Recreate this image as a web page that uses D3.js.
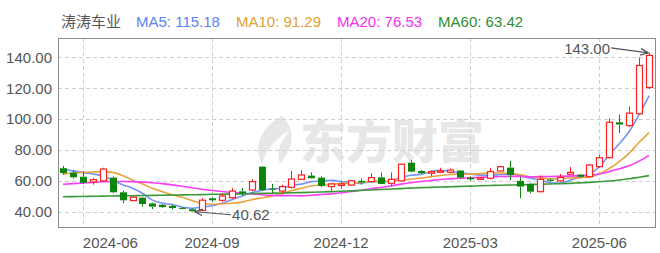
<!DOCTYPE html>
<html><head><meta charset="utf-8">
<script src="https://cdn.jsdelivr.net/npm/d3@7"></script>
<style>
body{margin:0;background:#fff}
svg{display:block}
text{font-family:"Liberation Sans",Arial,"Noto Sans CJK SC",sans-serif}
</style>
</head><body>
<svg id="c" width="660" height="253"></svg>
<script>
const stockName = "涛涛车业";
const dates = ["2024-05-20","2024-05-27","2024-06-03","2024-06-10","2024-06-17","2024-06-24","2024-07-01","2024-07-08","2024-07-15","2024-07-22",
"2024-07-29","2024-08-05","2024-08-12","2024-08-19","2024-08-26","2024-09-02","2024-09-09","2024-09-16","2024-09-23","2024-09-30",
"2024-10-07","2024-10-14","2024-10-21","2024-10-28","2024-11-04","2024-11-11","2024-11-18","2024-11-25","2024-12-02","2024-12-09",
"2024-12-16","2024-12-23","2024-12-30","2025-01-06","2025-01-13","2025-01-20","2025-01-27","2025-02-03","2025-02-10","2025-02-17",
"2025-02-24","2025-03-03","2025-03-10","2025-03-17","2025-03-24","2025-03-31","2025-04-07","2025-04-14","2025-04-21","2025-04-28",
"2025-05-05","2025-05-12","2025-05-19","2025-05-26","2025-06-02","2025-06-09","2025-06-16","2025-06-23","2025-06-30","2025-07-07"];
const openVals = [68.2,65.3,62.7,59.3,60.0,62.1,52.6,47.2,49.1,45.4, 44.5,43.7,42.5,41.6,40.8,48.7,47.4,49.1,53.2,54.1,
69.2,55.0,53.4,55.8,61.0,63.4,62.1,56.3,57.0,57.3, 60.0,59.5,62.3,58.4,60.0,71.8,66.4,65.0,65.6,65.6,
66.7,62.0,61.0,61.7,66.4,68.6,60.0,58.0,53.0,60.8, 60.0,64.3,64.0,62.7,69.2,75.0,98.0,95.8,103.5,120.5];
const closeVals = [65.0,62.3,58.8,60.8,67.7,52.6,47.4,49.4,45.0,43.3, 43.0,42.4,42.0,40.3,47.5,47.4,50.2,53.4,52.0,59.5,
54.1,54.3,56.3,61.2,63.8,61.7,56.7,58.0,58.0,60.1, 59.0,62.1,58.0,61.0,70.8,66.0,65.0,66.0,66.5,67.0,
62.1,61.0,62.0,66.0,69.2,63.8,56.3,53.0,61.0,60.0, 62.1,65.5,62.7,70.3,75.0,98.0,96.5,103.9,134.8,141.3];
const highVals = [69.7,67.0,66.0,62.0,68.5,63.0,53.5,50.0,49.5,46.0, 45.0,44.5,43.0,42.0,48.7,49.5,51.5,55.5,55.5,61.0,
69.5,58.0,57.5,66.4,67.0,65.5,63.0,58.5,59.5,60.5, 61.5,65.0,65.5,65.5,71.0,73.5,67.0,67.0,68.5,68.0,
67.0,63.0,62.5,68.5,69.5,72.9,62.5,58.5,63.5,61.5, 64.5,69.0,64.5,70.8,77.0,100.5,103.0,108.0,140.0,143.0];
const lowVals = [64.0,61.5,58.0,57.5,59.5,52.0,45.5,47.0,43.3,41.6, 42.5,41.5,41.5,40.62,40.7,46.5,46.5,48.5,50.5,53.5,
53.5,52.0,51.5,55.0,60.5,61.5,56.0,53.5,55.0,57.0, 57.5,59.0,57.8,56.5,59.5,65.5,64.5,63.0,65.0,65.0,
61.5,60.0,60.5,61.0,66.0,60.5,48.7,52.0,52.5,59.5, 59.5,64.0,62.0,62.0,68.5,74.5,91.0,95.0,103.0,119.5];
const ma5 = [67.5,66.5,65.5,64.5,63.2,60.4,57.5,55.2,52.0,47.5, 45.6,44.6,43.1,42.2,43.0,43.9,45.5,47.8,50.1,52.5,
53.8,54.7,55.2,57.1,57.9,59.5,59.9,60.3,59.6,58.9, 58.4,59.4,59.4,60.0,62.2,63.6,64.2,65.8,66.9,66.1,
65.3,64.5,63.7,63.6,64.1,64.4,63.5,61.7,60.7,58.8, 58.5,60.3,62.3,64.5,69.0,77.0,84.0,92.0,103.0,115.18];
const ma10 = [64.5,65.0,65.5,65.8,66.0,65.5,63.5,60.5,58.0,55.2, 53.0,51.0,49.4,47.3,45.3,44.8,45.1,45.5,46.2,47.8,
48.9,50.1,51.5,53.6,55.2,56.7,57.3,57.8,58.4,58.4, 58.9,59.7,59.9,59.8,60.5,61.0,61.8,62.6,63.5,64.1,
64.5,64.3,64.7,65.2,65.1,64.9,64.0,62.7,62.1,61.4, 61.4,61.9,62.0,62.6,64.5,68.0,72.5,78.0,85.0,91.29];
const ma20 = [57.8,58.2,58.6,59.0,59.4,59.6,59.6,59.5,59.2,58.8, 58.2,57.4,56.5,55.5,54.6,53.8,53.1,52.5,52.0,51.5,
51.0,50.6,50.4,50.5,50.3,50.7,51.2,51.6,52.3,53.1, 53.9,54.9,55.7,56.7,57.9,58.8,59.6,60.2,60.9,61.3,
61.7,62.0,62.3,62.5,62.8,62.9,62.9,62.6,62.8,62.8, 62.9,63.1,63.4,63.8,64.5,66.0,67.8,69.8,72.8,76.53];
const ma60 = [49.7,49.8,49.9,50.0,50.1,50.2,50.3,50.4,50.5,50.6, 50.7,50.8,50.9,51.0,51.1,51.3,51.4,51.5,51.6,51.8,
51.9,52.0,52.1,52.3,52.4,52.6,52.8,53.0,53.3,53.5, 53.8,54.1,54.4,54.7,55.0,55.3,55.6,55.8,56.0,56.2,
56.4,56.6,56.8,57.0,57.2,57.3,57.4,57.6,57.8,58.0, 58.2,58.4,58.7,59.0,59.4,59.9,60.6,61.4,62.4,63.42];
const maNames = ["MA5","MA10","MA20","MA60"];
const yTickValues = [40,60,80,100,120,140];
const xTickLabels = ["2024-06","2024-09","2024-12","2025-03","2025-06"];

const maSeries = [ma5, ma10, ma20, ma60];
const maLineColors = ["#7393f7","#e8a440","#fb3cf8","#3a9a3a"];
const maTextColors = ["#5b84f5","#e3a032","#f530f2","#2f8f2f"];
const upColor = "#ff1f1f", downColor = "#0b850b", textColor = "#555";

const W = 660, H = 253;
const L = 58, R = 655, T = 38, B = 227;
const svg = d3.select("#c");

const n = dates.length;
const x = d3.scaleBand().domain(d3.range(n)).range([L, R - 1]).paddingInner(0.4).paddingOuter(0.2);
const xc = i => x(i) + x.bandwidth() / 2;
const y = d3.scaleLinear().domain([30.1, 152.6]).range([B, T]);

// watermark
const wm = svg.append("g").attr("opacity", 0.09);
wm.append("text").attr("x", 300).attr("y", 158)
  .attr("font-size", 46).attr("font-weight", 900)
  .attr("font-family", "'Noto Sans CJK SC',sans-serif")
  .attr("fill", "#000").text("东方财富");
wm.append("path")
  .attr("d", "M282,116 C262,126 252,146 262,164 C266,150 276,138 290,130 C280,142 276,152 280,164 C292,150 298,132 282,116 Z")
  .attr("fill", "#000");

// grid
const tickIdx = xTickLabels.map(lbl => dates.findIndex(d => d.startsWith(lbl)));
const grid = svg.append("g").attr("stroke", "#cfcfcf").attr("stroke-dasharray", "4,3").attr("stroke-width", 1);
grid.selectAll("line.h").data(yTickValues).join("line")
  .attr("x1", L).attr("x2", R).attr("y1", d => Math.round(y(d)) + 0.5).attr("y2", d => Math.round(y(d)) + 0.5);
grid.selectAll("line.v").data(tickIdx).join("line")
  .attr("y1", T).attr("y2", B).attr("x1", d => Math.round(xc(d)) + 0.5).attr("x2", d => Math.round(xc(d)) + 0.5);

// axes
const yAxis = svg.append("g").attr("transform", `translate(${L - 6},0)`)
  .call(d3.axisLeft(y).tickValues(yTickValues).tickFormat(d3.format(".2f")).tickSize(0));
yAxis.select(".domain").remove();
yAxis.selectAll("text").attr("font-size", 15).attr("fill", textColor)
  .attr("font-family", "'Liberation Sans',Arial,sans-serif").attr("x", 0);

const xAxis = svg.append("g").attr("transform", `translate(0,${B})`)
  .call(d3.axisBottom(d3.scaleLinear().domain([0, 1]).range([0, 1]))
    .tickValues(tickIdx).tickFormat((d, i) => xTickLabels[i]).tickSize(0));
xAxis.select(".domain").remove();
xAxis.selectAll(".tick").attr("transform", d => `translate(${xc(d)},0)`);
xAxis.selectAll("text").attr("font-size", 15).attr("fill", textColor).attr("y", 10)
  .attr("font-family", "'Liberation Sans',Arial,sans-serif")
  .attr("text-anchor", (d, i) => i === 0 ? "start" : "middle");

// border
svg.append("rect").attr("x", L + 0.5).attr("y", T + 0.5).attr("width", R - L).attr("height", B - T)
  .attr("fill", "none").attr("stroke", "#8a8a8a").attr("stroke-width", 1);

// MA lines
maSeries.forEach((s, k) => {
  svg.append("path").datum(s)
    .attr("fill", "none").attr("stroke", maLineColors[k]).attr("stroke-width", 1.6)
    .attr("d", d3.line().x((d, i) => xc(i)).y(d => y(d)).curve(d3.curveMonotoneX));
});

// candles
const candles = d3.range(n).map(i => ({i, o: openVals[i], c: closeVals[i], h: highVals[i], l: lowVals[i]}));
const cg = svg.append("g");
const bw = Math.round(x.bandwidth());
candles.forEach(d => {
  const up = d.c >= d.o;
  const col = up ? upColor : downColor;
  const cx = Math.round(xc(d.i)) + 0.5;
  const top = y(Math.max(d.o, d.c)), bot = y(Math.min(d.o, d.c));
  cg.append("line").attr("x1", cx).attr("x2", cx).attr("y1", y(d.h)).attr("y2", top).attr("stroke", col);
  cg.append("line").attr("x1", cx).attr("x2", cx).attr("y1", bot).attr("y2", y(d.l)).attr("stroke", col);
  const hgt = Math.max(1, bot - top);
  if (up) {
    cg.append("rect").attr("x", cx - bw / 2).attr("y", top).attr("width", bw).attr("height", hgt)
      .attr("fill", "#fff").attr("stroke", col).attr("stroke-width", 1.2);
  } else {
    cg.append("rect").attr("x", cx - bw / 2 - 0.5).attr("y", top).attr("width", bw + 1).attr("height", hgt)
      .attr("fill", col);
  }
});

// annotations
svg.append("defs").append("marker").attr("id", "arr").attr("viewBox", "0 0 10 10")
  .attr("refX", 9).attr("refY", 5).attr("markerWidth", 7).attr("markerHeight", 7)
  .attr("orient", "auto-start-reverse")
  .append("path").attr("d", "M0,1 L9,5 L0,9").attr("fill", "none").attr("stroke", "#555").attr("stroke-width", 1.6);

const iMax = d3.maxIndex(highVals), iMin = d3.minIndex(lowVals);
const tipMax = [xc(iMax), y(highVals[iMax])];
const tMax = svg.append("text").attr("x", tipMax[0] - 39).attr("y", tipMax[1] - 4).attr("dy", "0.35em")
  .attr("text-anchor", "end").attr("font-size", 15).attr("fill", textColor).text(d3.format(".2f")(highVals[iMax]));
svg.append("path").attr("d", d3.line()([[tipMax[0] - 38, tipMax[1] - 5], [tipMax[0] - 1, tipMax[1]]]))
  .attr("stroke", "#555").attr("stroke-width", 1.2).attr("fill", "none").attr("marker-end", "url(#arr)");

const tipMin = [xc(iMin) + 2, y(lowVals[iMin]) + 1];
svg.append("text").attr("x", tipMin[0] + 38).attr("y", tipMin[1] + 3).attr("dy", "0.35em")
  .attr("text-anchor", "start").attr("font-size", 15).attr("fill", textColor).text(d3.format(".2f")(lowVals[iMin]));
svg.append("path").attr("d", d3.line()([[tipMin[0] + 37, tipMin[1] + 3], [tipMin[0] + 1, tipMin[1]]]))
  .attr("stroke", "#555").attr("stroke-width", 1.2).attr("fill", "none").attr("marker-end", "url(#arr)");

// legend
let lx = 61;
const ly = 27;
const tName = svg.append("text").attr("x", lx).attr("y", ly).attr("font-size", 15).attr("fill", textColor)
  .attr("font-family", "'Noto Sans CJK SC',sans-serif").text(stockName);
lx += tName.node().getComputedTextLength() + 15;
maNames.forEach((nm, k) => {
  const s = maSeries[k];
  const t = svg.append("text").attr("x", lx).attr("y", ly).attr("font-size", 15).attr("fill", maTextColors[k])
    .text(`${nm}: ${d3.format(".2f")(s[s.length - 1])}`);
  lx += t.node().getComputedTextLength() + 16;
});
</script>
</body></html>
